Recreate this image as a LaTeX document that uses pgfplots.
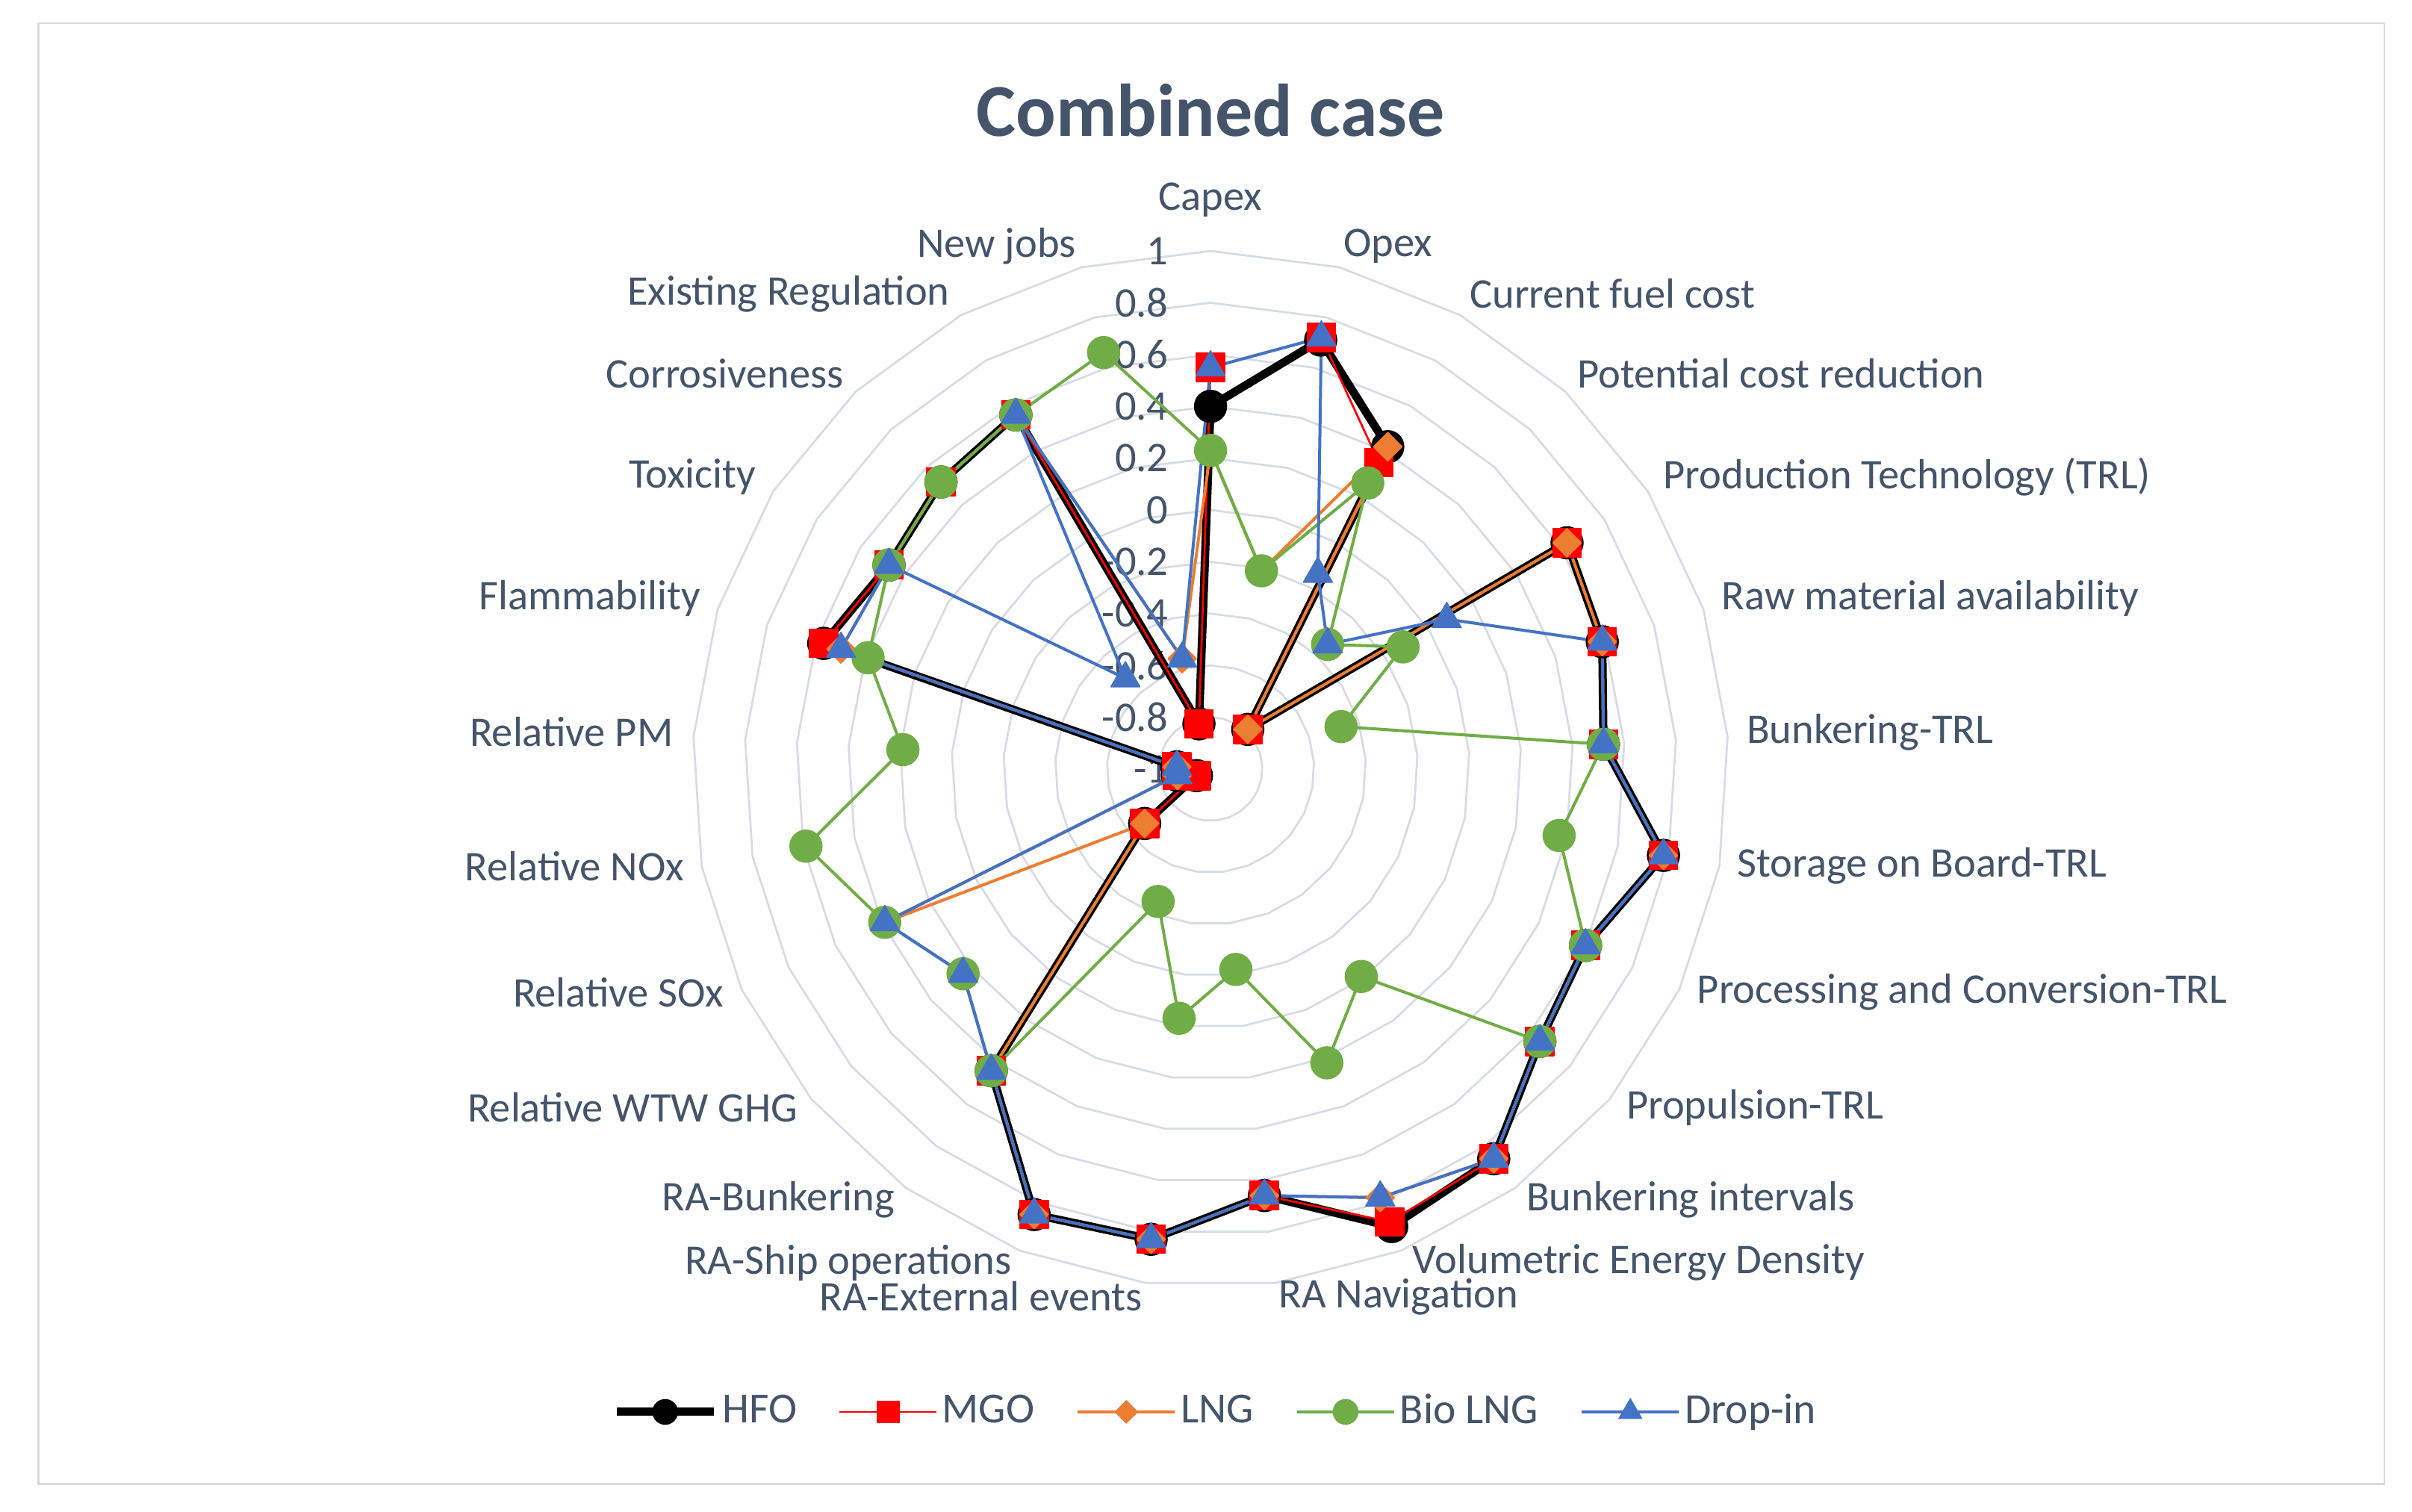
\documentclass[border=0pt]{standalone}
\usepackage{pgfplots}
\pgfplotsset{compat=1.18}
\usepackage{pgfplotstable}
\usepackage{fontspec}
\setmainfont{Carlito}
\definecolor{txt}{HTML}{44546A}
\definecolor{gridc}{HTML}{D6DCE5}
\definecolor{borderc}{HTML}{D9D9D9}
\definecolor{lngc}{HTML}{ED7D31}
\definecolor{bioc}{HTML}{70AD47}
\definecolor{dropc}{HTML}{4472C4}
\definecolor{mgoc}{HTML}{FF0000}

% idx: 0 Capex, 1 Opex, 2 Current fuel cost, 3 Potential cost reduction, 4 Production Technology (TRL),
% 5 Raw material availability, 6 Bunkering-TRL, 7 Storage on Board-TRL, 8 Processing and Conversion-TRL,
% 9 Propulsion-TRL, 10 Bunkering intervals, 11 Volumetric Energy Density, 12 RA Navigation,
% 13 RA-External events, 14 RA-Ship operations, 15 RA-Bunkering, 16 Relative WTW GHG, 17 Relative SOx,
% 18 Relative NOx, 19 Relative PM, 20 Flammability, 21 Toxicity, 22 Corrosiveness, 23 Existing Regulation, 24 New jobs
\pgfplotstableread{
idx HFO MGO LNG Bio Drop
0 0.40 0.55 0.23 0.23 0.55
1 0.71 0.72 -0.21 -0.21 0.72
2 0.42 0.35 0.42 0.26 -0.14
3 -0.79 -0.79 -0.79 -0.34 -0.34
4 0.63 0.63 0.63 -0.12 0.08
5 0.59 0.59 0.59 -0.47 0.59
6 0.52 0.52 0.52 0.52 0.52
7 0.78 0.78 0.78 0.37 0.78
8 0.60 0.60 0.60 0.60 0.60
9 0.65 0.65 0.65 0.65 0.65
10 0.86 0.86 0.86 -0.01 0.86
11 0.90 0.88 0.78 0.22 0.78
12 0.66 0.66 0.66 -0.22 0.66
13 0.83 0.83 0.83 -0.03 0.83
14 0.85 0.85 0.85 -0.45 0.85
15 0.44 0.44 0.44 0.44 0.44
16 -0.67 -0.67 -0.67 0.24 0.24
17 -0.94 -0.94 0.39 0.39 0.39
18 -0.87 -0.87 -0.87 0.59 -0.87
19 -0.87 -0.87 -0.87 0.19 -0.87
20 0.57 0.57 0.50 0.39 0.50
21 0.47 0.47 0.47 0.47 0.47
22 0.52 0.52 0.52 0.52 -0.52
23 0.56 0.56 0.56 0.56 0.56
24 -0.82 -0.82 -0.56 0.66 -0.56
}\data

\begin{document}
\begin{tikzpicture}
\begin{axis}[
  scale only axis, x=69.38pt, y=69.38pt,
  xmin=-4.673, xmax=4.638, ymin=-2.868, ymax=2.969,
  hide axis, clip=false,
  legend columns=5,
  legend style={draw=none, fill=none, at={(axis cs:0.02,-2.482)}, anchor=center,
    font=\fontsize{11.5}{14}\selectfont, text=txt,
    nodes={inner sep=0.7pt},
    /tikz/every even column/.append style={column sep=10.5pt},
    /tikz/every odd column/.append style={column sep=0.5pt}},
  legend image code/.code={\draw[mark repeat=2, mark phase=2, #1] plot coordinates {(0pt,0pt) (13pt,0pt) (26pt,0pt)};},
]
\path (rel axis cs:0,0) rectangle (rel axis cs:1,1);
\draw[borderc, line width=0.5pt] (axis cs:-4.525,-2.761) rectangle (axis cs:4.531,2.880);

\pgfplotsinvokeforeach{0.2,0.4,0.6,0.8,1.0,1.2,1.4,1.6,1.8,2.0}{
  \addplot[gridc, line width=0.55pt, forget plot, data cs=polar, mark=none]
    table[x expr=90-14.4*\thisrow{idx}, y expr=#1] {\data} -- cycle;
}

% radial value labels
\begin{scope}[every node/.style={anchor=east, inner sep=0pt, text=txt, font=\fontsize{11.3}{13}\selectfont}]
\node at (axis cs:-0.16,2.0) {1};
\node at (axis cs:-0.16,1.8) {0.8};
\node at (axis cs:-0.16,1.6) {0.6};
\node at (axis cs:-0.16,1.4) {0.4};
\node at (axis cs:-0.16,1.2) {0.2};
\node at (axis cs:-0.16,1.0) {0};
\node at (axis cs:-0.16,0.8) {-0.2};
\node at (axis cs:-0.16,0.6) {-0.4};
\node at (axis cs:-0.16,0.4) {-0.6};
\node at (axis cs:-0.16,0.2) {-0.8};
\node at (axis cs:-0.16,0.0) {-1};
\end{scope}

% category labels
\begin{scope}[every node/.style={inner sep=0pt, text=txt, font=\fontsize{11.3}{13}\selectfont}]
\node[anchor=center] at (axis cs:0,2.197) {Capex};
\node[anchor=west] at (axis cs:0.511,2.019) {Opex};
\node[anchor=west] at (axis cs:0.998,1.835) {Current fuel cost};
\node[anchor=west] at (axis cs:1.413,1.526) {Potential cost reduction};
\node[anchor=west] at (axis cs:1.746,1.128) {Production Technology (TRL)};
\node[anchor=west] at (axis cs:1.971,0.659) {Raw material availability};
\node[anchor=west] at (axis cs:2.067,0.143) {Bunkering-TRL};
\node[anchor=west] at (axis cs:2.031,-0.374) {Storage on Board-TRL};
\node[anchor=west] at (axis cs:1.876,-0.861) {Processing and Conversion-TRL};
\node[anchor=west] at (axis cs:1.603,-1.306) {Propulsion-TRL};
\node[anchor=west] at (axis cs:1.217,-1.663) {Bunkering intervals};
\node[anchor=west] at (axis cs:0.778,-1.906) {Volumetric Energy Density};
\node[anchor=west] at (axis cs:0.261,-2.037) {RA Navigation};
\node[anchor=east] at (axis cs:-0.261,-2.037) {RA-External events};
\node[anchor=east] at (axis cs:-0.766,-1.906) {RA-Ship operations};
\node[anchor=east] at (axis cs:-1.217,-1.663) {RA-Bunkering};
\node[anchor=east] at (axis cs:-1.591,-1.306) {Relative WTW GHG};
\node[anchor=east] at (axis cs:-1.876,-0.861) {Relative SOx};
\node[anchor=east] at (axis cs:-2.031,-0.374) {Relative NOx};
\node[anchor=east] at (axis cs:-2.072,0.143) {Relative PM};
\node[anchor=east] at (axis cs:-1.966,0.659) {Flammability};
\node[anchor=east] at (axis cs:-1.752,1.128) {Toxicity};
\node[anchor=east] at (axis cs:-1.413,1.526) {Corrosiveness};
\node[anchor=east] at (axis cs:-1.004,1.835) {Existing Regulation};
\node[anchor=east] at (axis cs:-0.517,2.019) {New jobs};
\end{scope}

\node[text=txt, font=\fontsize{20}{24}\selectfont\bfseries] at (axis cs:0,2.542) {Combined case};

\addplot[black, line width=2.2pt, line join=round, data cs=polar, mark=*, mark size=4.3pt, forget plot,
  mark options={solid, line width=0.3pt, fill=black, draw=black}]
  table[x expr=90-14.4*\thisrow{idx}, y expr=\thisrow{HFO}+1] {\data} -- cycle;
\addplot[mgoc, line width=0.55pt, line join=round, data cs=polar, mark=square*, mark size=3.8pt, forget plot,
  mark options={solid, line width=0.3pt, fill=mgoc, draw=mgoc}]
  table[x expr=90-14.4*\thisrow{idx}, y expr=\thisrow{MGO}+1] {\data} -- cycle;
\addplot[lngc, line width=0.8pt, line join=round, data cs=polar, mark=square*, mark size=2.7pt, forget plot,
  mark options={solid, rotate=45, line width=0.3pt, fill=lngc, draw=lngc}]
  table[x expr=90-14.4*\thisrow{idx}, y expr=\thisrow{LNG}+1] {\data} -- cycle;
\addplot[bioc, line width=0.8pt, line join=round, data cs=polar, mark=*, mark size=4.3pt, forget plot,
  mark options={solid, line width=0.3pt, fill=bioc, draw=bioc}]
  table[x expr=90-14.4*\thisrow{idx}, y expr=\thisrow{Bio}+1] {\data} -- cycle;
\addplot[dropc, line width=0.8pt, line join=round, data cs=polar, mark=triangle*, mark size=4.5pt, forget plot,
  mark options={solid, line width=0.3pt, fill=dropc, draw=dropc}]
  table[x expr=90-14.4*\thisrow{idx}, y expr=\thisrow{Drop}+1] {\data} -- cycle;

\addlegendimage{black, line width=2.2pt, mark=*, mark size=3.3pt, mark options={solid, line width=0.3pt, fill=black, draw=black}}
\addlegendentry{HFO}
\addlegendimage{mgoc, line width=0.55pt, mark=square*, mark size=2.9pt, mark options={solid, line width=0.3pt, fill=mgoc, draw=mgoc}}
\addlegendentry{MGO}
\addlegendimage{lngc, line width=0.8pt, mark=square*, mark size=2.1pt, mark options={solid, rotate=45, line width=0.3pt, fill=lngc, draw=lngc}}
\addlegendentry{LNG}
\addlegendimage{bioc, line width=0.8pt, mark=*, mark size=3.3pt, mark options={solid, line width=0.3pt, fill=bioc, draw=bioc}}
\addlegendentry{Bio LNG}
\addlegendimage{dropc, line width=0.8pt, mark=triangle*, mark size=3.5pt, mark options={solid, line width=0.3pt, fill=dropc, draw=dropc}}
\addlegendentry{Drop-in}
\end{axis}
\end{tikzpicture}
\end{document}
